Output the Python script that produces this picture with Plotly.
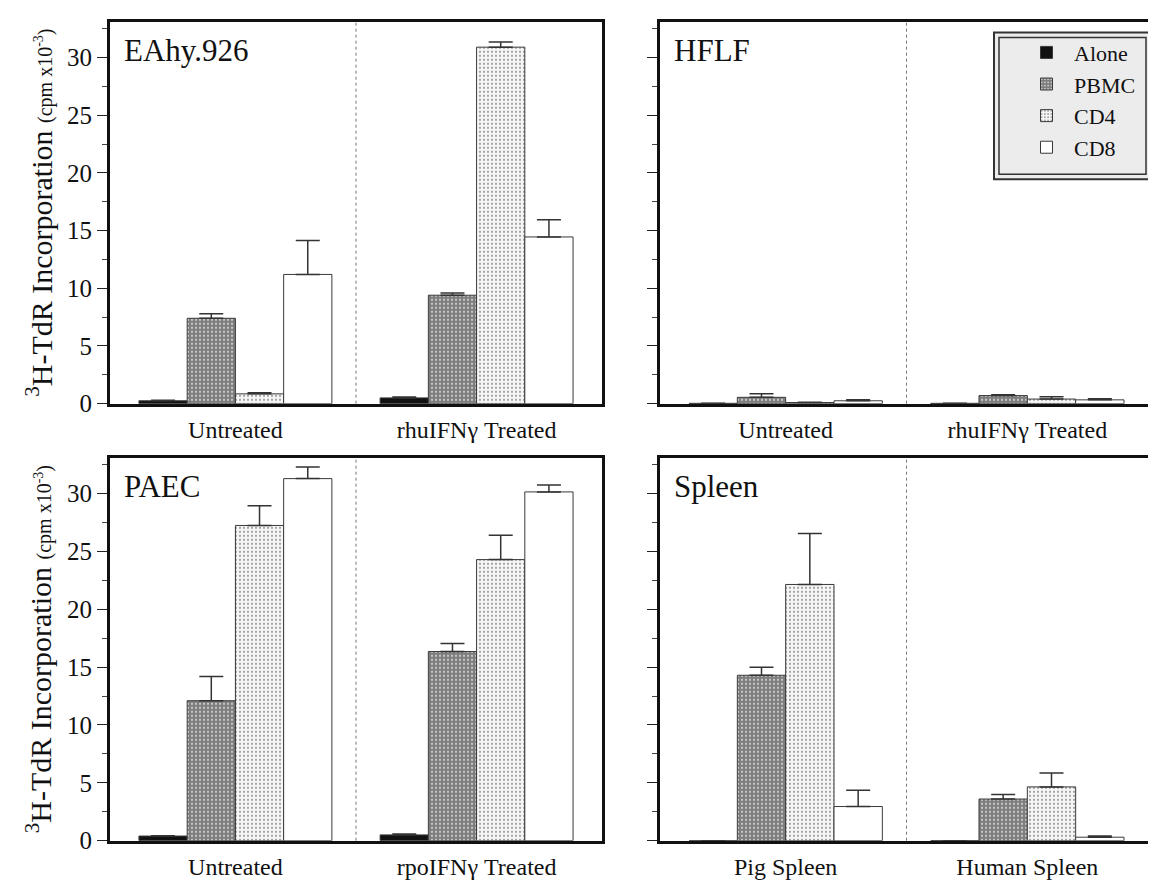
import plotly.graph_objects as go

W, H = 1156, 888
SERIES = ["Alone", "PBMC", "CD4", "CD8"]

# ---- data (cpm x10^-3), bar height and upward error (SEM) ----
eahy_cats = ["Untreated", "rhuIFNγ Treated"]
eahy_alone = [0.25, 0.5]
eahy_alone_err = [0.05, 0.08]
eahy_pbmc = [7.4, 9.4]
eahy_pbmc_err = [0.4, 0.2]
eahy_cd4 = [0.85, 30.9]
eahy_cd4_err = [0.1, 0.45]
eahy_cd8 = [11.2, 14.45]
eahy_cd8_err = [2.95, 1.5]

hflf_cats = ["Untreated", "rhuIFNγ Treated"]
hflf_alone = [0.03, 0.03]
hflf_alone_err = [0.0, 0.0]
hflf_pbmc = [0.55, 0.7]
hflf_pbmc_err = [0.3, 0.07]
hflf_cd4 = [0.1, 0.4]
hflf_cd4_err = [0.03, 0.2]
hflf_cd8 = [0.25, 0.33]
hflf_cd8_err = [0.08, 0.1]

paec_cats = ["Untreated", "rpoIFNγ Treated"]
paec_alone = [0.4, 0.5]
paec_alone_err = [0.03, 0.08]
paec_pbmc = [12.1, 16.35]
paec_pbmc_err = [2.1, 0.7]
paec_cd4 = [27.25, 24.3]
paec_cd4_err = [1.7, 2.1]
paec_cd8 = [31.3, 30.15]
paec_cd8_err = [1.0, 0.6]

spleen_cats = ["Pig Spleen", "Human Spleen"]
spleen_alone = [0.0, 0.0]
spleen_alone_err = [0.0, 0.0]
spleen_pbmc = [14.3, 3.6]
spleen_pbmc_err = [0.7, 0.4]
spleen_cd4 = [22.15, 4.65]
spleen_cd4_err = [4.4, 1.2]
spleen_cd8 = [2.95, 0.3]
spleen_cd8_err = [1.4, 0.1]

panel_titles = ["EAhy.926", "HFLF", "PAEC", "Spleen"]
y_ticks = [0, 5, 10, 15, 20, 25, 30]

panels = [
    (eahy_cats, [(eahy_alone, eahy_alone_err), (eahy_pbmc, eahy_pbmc_err), (eahy_cd4, eahy_cd4_err), (eahy_cd8, eahy_cd8_err)]),
    (hflf_cats, [(hflf_alone, hflf_alone_err), (hflf_pbmc, hflf_pbmc_err), (hflf_cd4, hflf_cd4_err), (hflf_cd8, hflf_cd8_err)]),
    (paec_cats, [(paec_alone, paec_alone_err), (paec_pbmc, paec_pbmc_err), (paec_cd4, paec_cd4_err), (paec_cd8, paec_cd8_err)]),
    (spleen_cats, [(spleen_alone, spleen_alone_err), (spleen_pbmc, spleen_pbmc_err), (spleen_cd4, spleen_cd4_err), (spleen_cd8, spleen_cd8_err)]),
]

styles = {
    "Alone": dict(color="#111111", pattern=dict(shape="")),
    "PBMC": dict(color="#8a8a8a", pattern=dict(shape=".", fgcolor="#dddddd", bgcolor="#7e7e7e", size=4, solidity=0.2, fillmode="replace")),
    "CD4": dict(color="#eeeeee", pattern=dict(shape=".", fgcolor="#8c8c8c", bgcolor="#f6f6f6", size=4, solidity=0.2, fillmode="replace")),
    "CD8": dict(color="#ffffff", pattern=dict(shape="")),
}

FONT = "Liberation Serif, Times New Roman, Times, serif"

# panel pixel boxes: (left, right, top, bottom)
boxes = [(102, 594, 14, 402), (652, 1145, 14, 402), (102, 594, 457, 846), (652, 1145, 457, 846)]

fig = go.Figure()
for i, (cats, vals) in enumerate(panels):
    n = i + 1
    xa = "x" if n == 1 else f"x{n}"
    ya = "y" if n == 1 else f"y{n}"
    for s, (v, e) in zip(SERIES, vals):
        st = styles[s]
        fig.add_trace(go.Bar(
            x=cats, y=v, name=s, xaxis=xa, yaxis=ya,
            legendgroup=s, showlegend=(n == 2),
            marker=dict(color=st["color"], pattern=st["pattern"],
                        line=dict(color="#3a3a3a", width=1)),
            error_y=dict(type="data", array=e, arrayminus=[0] * len(e), symmetric=False,
                         color="#333333", thickness=1.5, width=12),
        ))

layout = dict(
    width=W, height=H, margin=dict(l=0, r=0, t=0, b=0),
    paper_bgcolor="white", plot_bgcolor="white",
    barmode="group", bargap=0.2, bargroupgap=0.0,
    font=dict(family=FONT, color="#111111"),
    showlegend=True,
    legend=dict(x=1133 / W, xanchor="right", y=1 - 24 / H, yanchor="top",
                bgcolor="rgba(0,0,0,0)", borderwidth=0,
                font=dict(family=FONT, size=22, color="#111111"),
                itemwidth=45, tracegroupgap=0),
)

shapes = []
annotations = []
for i, (l, r, t, b) in enumerate(boxes):
    n = i + 1
    xk = "xaxis" if n == 1 else f"xaxis{n}"
    yk = "yaxis" if n == 1 else f"yaxis{n}"
    layout[xk] = dict(
        domain=[l / W, r / W], anchor="y" if n == 1 else f"y{n}",
        type="category", range=[-0.52, 1.52],
        showline=True, mirror=True, linewidth=3, linecolor="#111111",
        ticks="", showgrid=False, zeroline=False,
        tickfont=dict(family=FONT, size=24, color="#111111"),
        ticklabelstandoff=3,
    )
    layout[yk] = dict(
        domain=[1 - b / H, 1 - t / H], anchor="x" if n == 1 else f"x{n}",
        range=[0, 33.1], tickvals=y_ticks,
        showline=True, mirror=True, linewidth=3, linecolor="#111111",
        ticks="outside", ticklen=10, tickwidth=1.3, tickcolor="#222222",
        minor=dict(dtick=2.5, tick0=0, ticks="outside", ticklen=5, tickwidth=1, tickcolor="#444444"),
        showgrid=False, zeroline=False,
        showticklabels=(n in (1, 3)),
        tickfont=dict(family=FONT, size=25, color="#111111"),
    )
    xr = "x" if n == 1 else f"x{n}"
    yr = "y" if n == 1 else f"y{n}"
    shapes.append(dict(type="line", xref=xr, yref=f"{yr} domain", x0=0.5, x1=0.5, y0=0, y1=1,
                       line=dict(color="#777777", width=1, dash="dot"), layer="below"))
    annotations.append(dict(text=panel_titles[i], xref=f"{xr} domain", yref=f"{yr} domain",
                            x=0.025, y=0.975, xanchor="left", yanchor="top", showarrow=False,
                            font=dict(family=FONT, size=31, color="#111111")))
    if n in (1, 3):
        annotations.append(dict(
            text="<sup>3</sup>H-TdR Incorporation <span style='font-size:20px'>(cpm x10<sup>-3</sup>)</span>",
            xref="paper", yref="paper", x=31 / W, y=1 - (t + b) / 2 / H,
            xanchor="center", yanchor="middle", textangle=-90, showarrow=False,
            font=dict(family=FONT, size=30, color="#111111")))

# legend frame (double border)
shapes.append(dict(type="rect", xref="paper", yref="paper", x0=986 / W, x1=1143 / W,
                   y0=1 - 174 / H, y1=1 - 25 / H, line=dict(color="#333333", width=2),
                   fillcolor="#ececec", layer="above"))
shapes.append(dict(type="rect", xref="paper", yref="paper", x0=991 / W, x1=1138 / W,
                   y0=1 - 169 / H, y1=1 - 30 / H, line=dict(color="#333333", width=1.5),
                   fillcolor="rgba(0,0,0,0)", layer="above"))

layout["shapes"] = shapes
layout["annotations"] = annotations
fig.update_layout(**layout)
fig.write_html("out.html")
